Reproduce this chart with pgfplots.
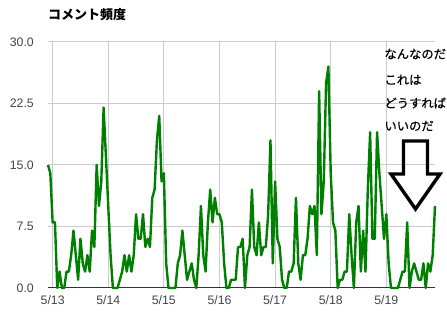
\documentclass[border=0pt]{standalone}
\usepackage{pgfplots}
\pgfplotsset{compat=1.18}
\usepackage{fontspec}
\setmainfont{Liberation Sans}
\newfontfamily\jp{Noto Sans CJK JP}
\newfontfamily\jpm{Noto Sans CJK JP}[FakeBold=0.6]
\definecolor{gridc}{HTML}{CCCCCC}
\definecolor{tickc}{HTML}{444444}
\definecolor{linec}{HTML}{008000}
\definecolor{basec}{HTML}{333333}
\begin{document}
\begin{tikzpicture}[x=1pt,y=1pt]
\useasboundingbox (0,0) rectangle (447,321);
\begin{axis}[
  at={(48pt,33pt)}, anchor=south west,
  scale only axis, width=387pt, height=246pt,
  xmin=-2, xmax=165, ymin=0, ymax=30,
  xtick={0,24,48,72,96,120,144},
  xticklabels={5/13,5/14,5/15,5/16,5/17,5/18,5/19},
  ytick={0,7.5,15,22.5,30},
  yticklabels={0.0,7.5,15.0,22.5,30.0},
  major tick length=0pt,
  grid=major,
  major grid style={gridc, line width=1pt},
  axis x line*=bottom, axis y line*=left,
  x axis line style={basec, line width=1pt, -},
  y axis line style={draw=none},
  /pgf/number format/assume math mode=true,
  tick label style={font=\fontsize{12.3}{14}\selectfont, text=tickc, inner sep=0pt},
  xticklabel style={anchor=north, yshift=-7pt},
  yticklabel style={anchor=east, xshift=-14pt},
  clip=false,
]
\addplot[linec, line width=2.4pt, line join=round, mark=none] coordinates {
(-2,15)(-1,14)(0,8)(1,8)(2,0)(3,2)(4,0)(5,0)(6,2)(7,2)(8,4)(9,7)(10,4)(11,1)(12,6)(13,3)(14,2)(15,4)(16,2)(17,7)(18,5)(19,15)(20,10)(21,13)(22,22)(23,16)
(24,10)(25,4)(26,0)(27,0)(28,0)(29,1)(30,2)(31,4)(32,2)(33,4)(34,2)(35,4)(36,9)(37,6)(38,6)(39,9)(40,5)(41,6)(42,5)(43,11)(44,12)(45,18)(46,21)(47,13)
(48,14)(49,3)(50,0)(51,0)(52,0)(53,0)(54,3)(55,4)(56,7)(57,4)(58,1)(59,2)(60,3)(61,1)(62,0)(63,4)(64,10)(65,4)(66,2)(67,8)(68,12)(69,8)(70,11)(71,9)
(72,9)(73,8)(74,3)(75,0)(76,0)(77,1)(78,1)(79,1)(80,5)(81,5)(82,6)(83,0)(84,4)(85,5)(86,12)(87,5)(88,4)(89,8)(90,4)(91,5)(92,5)(93,9)(94,18)(95,3)
(96,13)(97,6)(98,5)(99,1)(100,0)(101,0)(102,2)(103,2)(104,3)(105,11)(106,3)(107,1)(108,4)(109,4)(110,6)(111,10)(112,9)(113,10)(114,4)(115,24)(116,9)(117,13)(118,25)(119,27)
(120,14)(121,8)(122,7)(123,0)(124,1)(125,1)(126,2)(127,2)(128,9)(129,4)(130,0)(131,8)(132,10)(133,2)(134,7)(135,2)(136,12)(137,19)(138,6)(139,6)(140,19)(141,14)(142,10)(143,6)
(144,9)(145,3)(146,0)(147,0)(148,0)(149,0)(150,1)(151,2)(152,2)(153,8)(154,0)(155,2)(156,3)(157,2)(158,1)(159,1)(160,3)(161,0)(162,3)(163,2)(164,4)(165,10)
};
\end{axis}
\node[anchor=west, inner sep=0pt, font=\jp\bfseries\fontsize{13}{15}\selectfont] at (48,306) {コメント頻度};
\begin{scope}[every node/.style={anchor=west, inner sep=0pt, font=\jpm\fontsize{12.3}{14}\selectfont}]
\node at (384.3,267) {なんなのだ};
\node at (384.3,241.3) {これは};
\node at (384.3,218) {どうすれば};
\node at (384.3,195) {いいのだ};
\end{scope}
\draw[line width=3.4pt, miter limit=10] (403.5,180) -- (403.5,147) -- (391,147) -- (415.5,112) -- (440,147) -- (427.5,147) -- (427.5,180) -- cycle;
\end{tikzpicture}
\end{document}
